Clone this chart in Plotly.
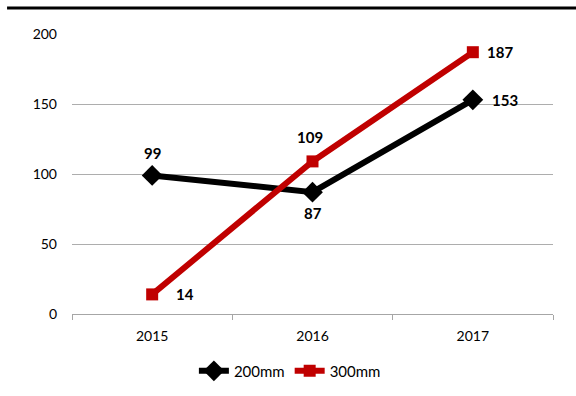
import plotly.graph_objects as go

years = ["2015", "2016", "2017"]
mm200 = [99, 87, 153]
mm300 = [14, 109, 187]

# label offsets (px) per point: (xshift, yshift)
off200 = [(0, 22), (0, -21), (32, 0)]
off300 = [(33, 0), (-3, 24), (27, 0)]

FONT = "Lato, Open Sans, sans-serif"

fig = go.Figure()
fig.add_trace(go.Scatter(
    x=years, y=mm200, name="200mm", mode="lines+markers",
    line=dict(color="#000000", width=6),
    marker=dict(symbol="diamond", size=16, color="#000000"),
))
fig.add_trace(go.Scatter(
    x=years, y=mm300, name="300mm", mode="lines+markers",
    line=dict(color="#C00000", width=6),
    marker=dict(symbol="square", size=12, color="#C00000"),
))

# value labels; annotations on a category axis take the category index
for vals, offs in ((mm200, off200), (mm300, off300)):
    for i, (v, (dx, dy)) in enumerate(zip(vals, offs)):
        fig.add_annotation(x=i, y=v, text=str(v), showarrow=False,
                           xshift=dx, yshift=dy,
                           font=dict(family=FONT, size=15, color="#000000",
                                     weight="bold"))

# thick rule across the top
fig.add_shape(type="line", xref="paper", yref="paper",
              x0=-0.135, x1=1.05, y0=1.093, y1=1.093,
              line=dict(color="#000000", width=3))

fig.update_layout(
    width=576, height=396,
    margin=dict(l=72, r=23, t=34, b=82, autoexpand=False),
    paper_bgcolor="white", plot_bgcolor="white",
    font=dict(family=FONT, size=14, color="#000000"),
    showlegend=True,
    legend=dict(orientation="h", x=0.453, xanchor="center", y=-0.145,
                yanchor="top", font=dict(size=15), itemwidth=30,
                tracegroupgap=0),
    xaxis=dict(type="category", range=[-0.5, 2.5], showgrid=False,
               showline=True, linecolor="#A6A6A6", linewidth=1,
               ticks="outside", ticklen=5, tickcolor="#A6A6A6",
               tickson="boundaries", ticklabelstandoff=9,
               tickfont=dict(size=14)),
    yaxis=dict(range=[0, 200], dtick=50, showgrid=True,
               gridcolor="#ADADAD", gridwidth=1, zeroline=False,
               showline=False, ticks="", ticklabelstandoff=14,
               tickfont=dict(size=14)),
)

fig.write_html("out.html")
